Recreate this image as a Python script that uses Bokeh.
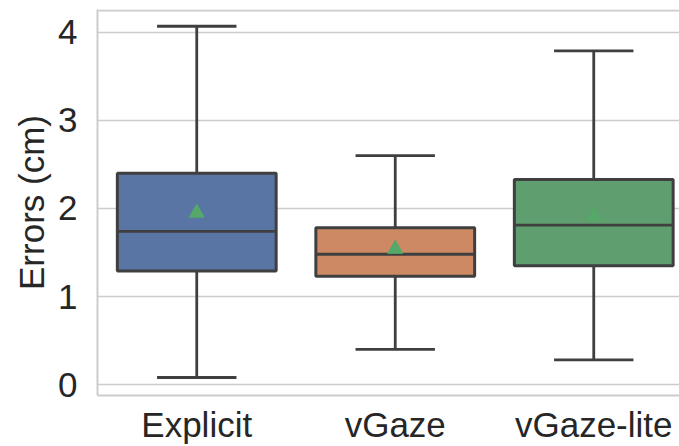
from bokeh.plotting import figure
from bokeh.models import Range1d, FixedTicker, Span, ColumnDataSource
from bokeh.embed import file_html
from bokeh.resources import INLINE

# ---- data ----
categories = ["Explicit", "vGaze", "vGaze-lite"]
whisker_low = [0.08, 0.40, 0.28]
q1 = [1.29, 1.23, 1.35]
median = [1.74, 1.48, 1.81]
q3 = [2.40, 1.78, 2.33]
whisker_high = [4.07, 2.60, 3.79]
means = [1.95, 1.54, 1.91]
y_ticks = [0, 1, 2, 3, 4]
box_colors = ["#5875a4", "#cc8963", "#5f9e6e"]

xs = list(range(len(categories)))
box_w = 0.8
cap_w = 0.4

src = ColumnDataSource(dict(
    x=xs, lo=whisker_low, q1=q1, med=median, q3=q3, hi=whisker_high,
    mean=means, color=box_colors,
    bl=[x - box_w / 2 for x in xs], br=[x + box_w / 2 for x in xs],
    cl=[x - cap_w / 2 for x in xs], cr=[x + cap_w / 2 for x in xs],
))

y_top = 4.26
p = figure(width=679, height=446,
           x_range=Range1d(-0.5, 2.432), y_range=Range1d(-0.1243, y_top),
           output_backend="svg", toolbar_location=None,
           min_border_left=97, min_border_right=0, min_border_top=9, min_border_bottom=49)
p.background_fill_color = "white"
p.border_fill_color = "white"
p.outline_line_color = None

edge = "#3f3f3f"
lw = 2.8
# whiskers
p.segment(x0="x", y0="q3", x1="x", y1="hi", line_color=edge, line_width=lw, source=src)
p.segment(x0="x", y0="lo", x1="x", y1="q1", line_color=edge, line_width=lw, source=src)
# caps
p.segment(x0="cl", y0="hi", x1="cr", y1="hi", line_color=edge, line_width=lw, source=src)
p.segment(x0="cl", y0="lo", x1="cr", y1="lo", line_color=edge, line_width=lw, source=src)
# boxes
p.vbar(x="x", width=box_w, bottom="q1", top="q3", fill_color="color",
       line_color=edge, line_width=3, source=src)
# medians
p.segment(x0="bl", y0="med", x1="br", y1="med", line_color=edge, line_width=lw, source=src)
# means
p.scatter(x="x", y="mean", marker="triangle", size=15, fill_color="#55a868",
          line_color="#55a868", source=src)

# top spine
p.add_layout(Span(location=y_top - 0.01, dimension="width", line_color="#cccccc", line_width=2))

font = "Liberation Sans"
txt = "#262626"

p.xgrid.grid_line_color = None
p.ygrid.grid_line_color = "#cccccc"
p.ygrid.grid_line_width = 1.6

p.yaxis.ticker = FixedTicker(ticks=y_ticks)
p.xaxis.ticker = FixedTicker(ticks=xs)
p.xaxis.major_label_overrides = {x: c for x, c in zip(xs, categories)}

for ax in (p.xaxis, p.yaxis):
    ax.axis_line_color = "#cccccc"
    ax.axis_line_width = 2
    ax.major_tick_line_color = None
    ax.minor_tick_line_color = None
    ax.major_tick_out = 0
    ax.major_tick_in = 0
    ax.minor_tick_out = 0
    ax.minor_tick_in = 0
    ax.major_label_text_font = font
    ax.major_label_text_font_size = "35px"
    ax.major_label_text_color = txt

p.yaxis.major_label_standoff = 20
p.xaxis.major_label_standoff = 9
p.yaxis.axis_label = "Errors (cm)"
p.yaxis.axis_label_text_font = font
p.yaxis.axis_label_text_font_size = "35px"
p.yaxis.axis_label_text_font_style = "normal"
p.yaxis.axis_label_text_color = txt
p.yaxis.axis_label_standoff = 4

open("out.html", "w").write(file_html(p, INLINE))
